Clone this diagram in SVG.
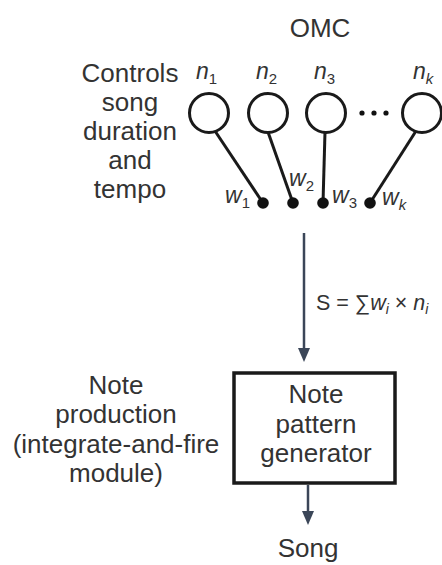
<svg xmlns="http://www.w3.org/2000/svg" width="442" height="565" viewBox="0 0 442 565">
<defs>
<style>
text{font-family:"Liberation Sans",Arial,sans-serif;fill:#333;}
.lbl{font-size:26px;text-anchor:middle;}
.var{font-size:23px;font-style:italic;}
.sub{font-size:15px;font-style:normal;}
.subi{font-size:15px;font-style:italic;}
.neuron{fill:#fff;stroke:#1a1a1a;stroke-width:3;}
.syn{stroke:#1a1a1a;stroke-width:3;fill:none;}
.dot{fill:#111;}
.arr{stroke:#3b4658;stroke-width:2.5;fill:none;}
.head{fill:#3b4658;}
</style>
</defs>
<rect width="442" height="565" fill="#fff"/>
<g id="title"><text class="lbl" x="320" y="37">OMC</text></g>
<g id="controls-label">
<text class="lbl" x="130" y="82">Controls</text>
<text class="lbl" x="130" y="111">song</text>
<text class="lbl" x="130" y="140">duration</text>
<text class="lbl" x="130" y="169">and</text>
<text class="lbl" x="130" y="198">tempo</text>
</g>
<g id="connectors">
<line class="syn" x1="215" y1="131" x2="263" y2="203"/>
<line class="syn" x1="268" y1="132" x2="293" y2="203"/>
<line class="syn" x1="325" y1="132" x2="323" y2="203"/>
<line class="syn" x1="416" y1="131" x2="370" y2="203"/>
<line class="arr" x1="304" y1="233" x2="304" y2="350"/>
<polygon class="head" points="298,348 310,348 304,362"/>
<line class="arr" x1="308" y1="485" x2="308" y2="513"/>
<polygon class="head" points="302,511 314,511 308,525"/>
</g>
<g id="n1"><circle class="neuron" cx="209" cy="113" r="19.5"/><text class="var" x="196" y="79">n<tspan class="sub" dy="5">1</tspan></text></g>
<g id="n2"><circle class="neuron" cx="268" cy="113" r="19.5"/><text class="var" x="256" y="79">n<tspan class="sub" dy="5">2</tspan></text></g>
<g id="n3"><circle class="neuron" cx="326" cy="113" r="19.5"/><text class="var" x="314" y="79">n<tspan class="sub" dy="5">3</tspan></text></g>
<g id="ellipsis"><circle class="dot" cx="362" cy="113" r="2.6"/><circle class="dot" cx="374" cy="113" r="2.6"/><circle class="dot" cx="386" cy="113" r="2.6"/></g>
<g id="nk"><circle class="neuron" cx="422" cy="113" r="19.5"/><text class="var" x="413" y="79">n<tspan class="subi" dy="5">k</tspan></text></g>
<g id="w1"><circle class="dot" cx="263" cy="203" r="5.8"/><text class="var" x="225" y="203">w<tspan class="sub" dy="5">1</tspan></text></g>
<g id="w2"><circle class="dot" cx="293" cy="203" r="5.8"/><text class="var" x="289" y="186">w<tspan class="sub" dy="5">2</tspan></text></g>
<g id="w3"><circle class="dot" cx="323" cy="203" r="5.8"/><text class="var" x="332" y="203">w<tspan class="sub" dy="5">3</tspan></text></g>
<g id="wk"><circle class="dot" cx="370" cy="203" r="5.8"/><text class="var" x="382" y="205">w<tspan class="subi" dy="5">k</tspan></text></g>
<g id="sum-label"><text x="316" y="310" font-size="21.5">S = ∑<tspan font-style="italic">w</tspan><tspan font-style="italic" font-size="14" dy="4">i</tspan><tspan dy="-4"> × </tspan><tspan font-style="italic">n</tspan><tspan font-style="italic" font-size="14" dy="4">i</tspan></text></g>
<g id="generator">
<rect x="234" y="373" width="161" height="110" fill="#fff" stroke="#1a1a1a" stroke-width="3.5"/>
<text class="lbl" x="316" y="403">Note</text>
<text class="lbl" x="316" y="433">pattern</text>
<text class="lbl" x="316" y="462">generator</text>
</g>
<g id="production-label">
<text class="lbl" x="116" y="394">Note</text>
<text class="lbl" x="116" y="423">production</text>
<text class="lbl" x="116" y="453">(integrate-and-fire</text>
<text class="lbl" x="116" y="482">module)</text>
</g>
<g id="song"><text class="lbl" x="308" y="557">Song</text></g>
</svg>
